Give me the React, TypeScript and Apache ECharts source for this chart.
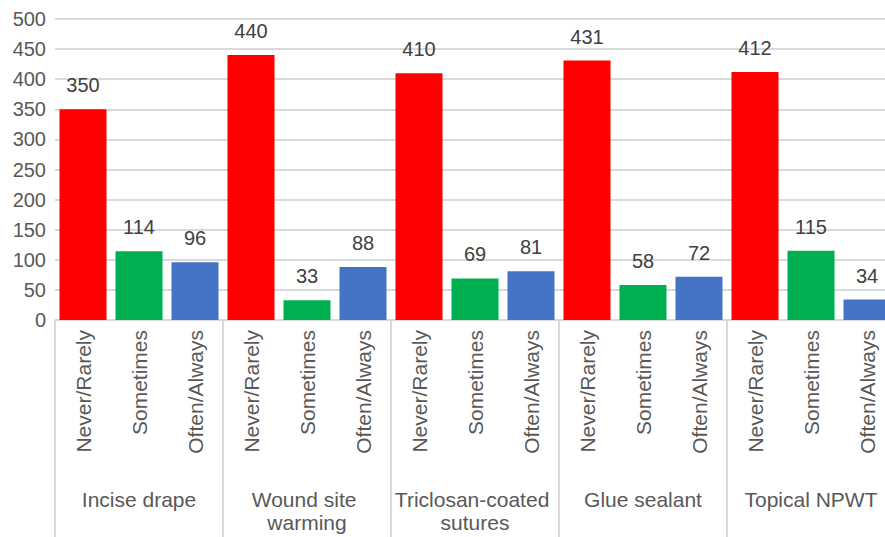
import React, { useEffect, useRef } from "react";
import * as echarts from "echarts";

const groups = ["Incise drape", "Wound site warming", "Triclosan-coated sutures", "Glue sealant", "Topical NPWT"];
const responses = ["Never/Rarely", "Sometimes", "Often/Always"];
const neverRarely = [350, 440, 410, 431, 412];
const sometimes = [114, 33, 69, 58, 115];
const oftenAlways = [96, 88, 81, 72, 34];
const colors = ["#FF0000", "#00B050", "#4472C4"];
const yTicks = { min: 0, max: 500, interval: 50 };

const FONT = "'Liberation Sans', Arial, Helvetica, sans-serif";

export default function App() {
  const ref = useRef<HTMLDivElement>(null);
  useEffect(() => {
    if (!ref.current) return;
    const chart = echarts.init(ref.current, null, { renderer: "svg" });
    const seriesVals = [neverRarely, sometimes, oftenAlways];
    const cats: string[] = [];
    const data: any[] = [];
    groups.forEach((g, gi) => {
      responses.forEach((r, ri) => {
        cats.push(r);
        data.push({ value: seriesVals[ri][gi], itemStyle: { color: colors[ri] } });
      });
    });
    chart.setOption({
      animation: false,
      textStyle: { fontFamily: FONT },
      grid: { left: 55, right: 0, top: 19, bottom: 217, containLabel: false },
      xAxis: [
        {
          type: "category",
          data: cats,
          position: "bottom",
          axisLine: { show: true, lineStyle: { color: "#d9d9d9", width: 2 } },
          axisTick: { show: false },
          axisLabel: {
            interval: 0,
            rotate: 90,
            margin: 10,
            color: "#595959",
            fontSize: 21,
            fontFamily: FONT,
          },
        },
        {
          type: "category",
          data: groups,
          position: "bottom",
          axisLine: { show: false },
          axisTick: { show: true, length: 230, interval: 0, lineStyle: { color: "#d9d9d9", width: 2 } },
          axisLabel: {
            interval: 0,
            margin: 168,
            color: "#595959",
            fontSize: 21,
            lineHeight: 23,
            fontFamily: FONT,
            width: 162,
            overflow: "break",
            verticalAlign: "top",
          },
        },
      ],
      yAxis: {
        type: "value",
        min: yTicks.min,
        max: yTicks.max,
        interval: yTicks.interval,
        axisLine: { show: false },
        axisTick: { show: false },
        splitLine: { lineStyle: { color: "#d9d9d9", width: 2 } },
        axisLabel: { color: "#595959", fontSize: 20, margin: 9, fontFamily: FONT },
      },
      series: [
        {
          type: "bar",
          xAxisIndex: 0,
          data,
          barWidth: 47,
          label: {
            show: true,
            position: "top",
            distance: 14,
            color: "#404040",
            fontSize: 20,
            fontFamily: FONT,
          },
        },
      ],
    });
    return () => chart.dispose();
  }, []);
  return (
    <div style={{ position: "fixed", left: 0, top: 0, width: 885, height: 537, overflow: "hidden", background: "#fff" }}>
      <div ref={ref} style={{ width: 895, height: 537 }} />
    </div>
  );
}
